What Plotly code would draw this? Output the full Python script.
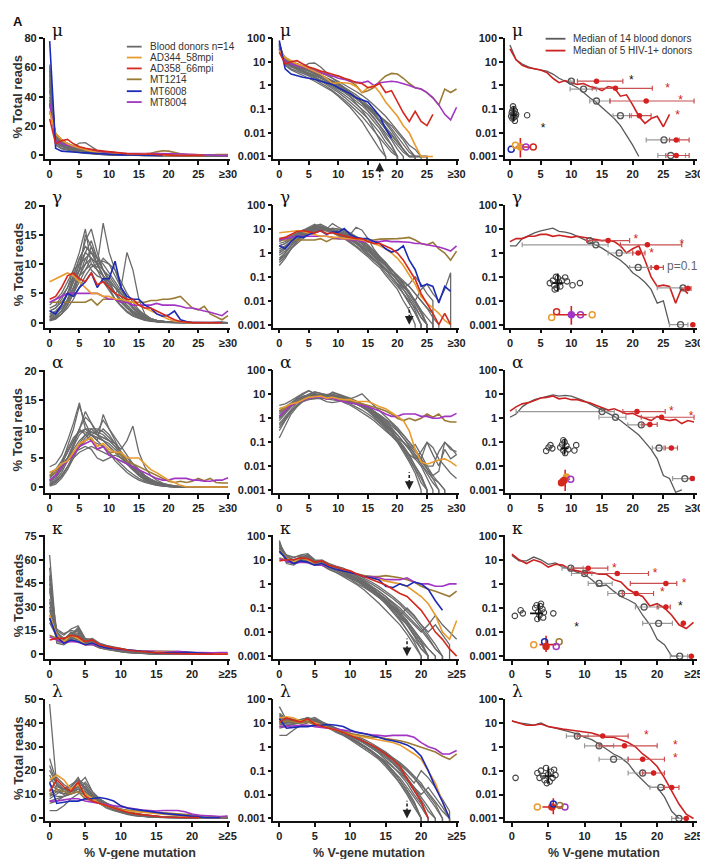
import plotly.graph_objects as go

FIG_W, FIG_H = 708, 859
GREY = "#6b6b6b"
C_AD344 = "#E89B2E"
C_AD358 = "#D42A1E"
C_MT1214 = "#9A7B35"
C_MT6008 = "#1B2BB5"
C_MT8004 = "#A235C4"
MED_GREY = "#5a5a5a"
MED_RED = "#CC2222"

# ---------------- mu ----------------
MU_DONORS = [
    [45,10,7,5.5,4.5,3.5,2.6,2,1.5,1.1,0.8,0.55,0.4,0.28,0.18,0.11,0.06,0.03,0.015,0.008,0.004,0.002,0.001,0.001],
    [60,8,5,4,3.2,2.5,1.8,1.3,0.9,0.6,0.4,0.25,0.15,0.09,0.05,0.025,0.012,0.006,0.003,0.0015,0.001],
    [35,14,10,8,6.5,5.5,4.5,3.5,2.7,2,1.5,1.1,0.8,0.55,0.38,0.25,0.15,0.09,0.05,0.025,0.012,0.006,0.003,0.002,0.001,0.001],
    [50,9,6.5,5.5,6,8.5,8.8,6,3.5,2,1.3,0.8,0.5,0.3,0.17,0.09,0.045,0.02,0.008,0.003,0.001],
    [40,12,8,6,4.5,3.2,2.3,1.6,1.1,0.75,0.5,0.32,0.2,0.12,0.07,0.04,0.02,0.01,0.004,0.002,0.001],
    [55,7,4.5,3.5,2.6,2,1.5,1.1,0.8,0.55,0.35,0.2,0.12,0.06,0.03,0.012,0.005,0.002,0.001],
    [30,15,11,8,6,4.5,3.5,2.6,2,1.5,1.1,0.75,0.5,0.33,0.2,0.12,0.07,0.035,0.018,0.009,0.004,0.002,0.001,0.001,0.001,0.001],
    [48,11,8,6.5,5,4,3,2.2,1.6,1.2,0.9,0.65,0.45,0.3,0.19,0.12,0.08,0.05,0.03,0.015,0.007,0.003,0.0015,0.001],
    [58,9,6,4.5,3.5,2.8,2.2,1.7,1.3,0.95,0.7,0.5,0.34,0.22,0.14,0.08,0.04,0.02,0.01,0.005,0.002,0.001],
    [38,13,9,7,5.5,4.5,3.6,2.8,2.1,1.6,1.2,0.85,0.6,0.4,0.25,0.15,0.09,0.05,0.025,0.012,0.005,0.002,0.001,0.001],
    [52,10,7,5,3.8,2.9,2.2,1.6,1.2,0.85,0.6,0.4,0.26,0.16,0.1,0.06,0.03,0.015,0.006,0.003,0.001],
    [44,12,8.5,6.5,5,4,3.2,2.5,1.9,1.4,1,0.7,0.48,0.3,0.2,0.13,0.08,0.05,0.03,0.02,0.01,0.005,0.002,0.001,0.001,0.001],
    [36,9,7,6,5,4.2,3.4,2.6,1.9,1.3,0.85,0.55,0.33,0.18,0.09,0.04,0.015,0.005,0.001],
    [62,10,6.5,5,4,3.3,2.7,2.1,1.6,1.2,0.85,0.6,0.42,0.28,0.18,0.11,0.06,0.03,0.014,0.006,0.003,0.0015,0.001,0.001,0.001],
]
MU_AD344 = [30,15,11,8,6.5,5,4,3,2,1.2,1.3,1.3,1.2,0.9,0.5,0.8,1,0.5,0.2,0.1,0.05,0.02,0.01,0.003,0.001,0.001,0.001]
MU_AD358 = [25,8,10,11,8,6,5,4,3.5,3,2.5,2,1.7,1.3,1.2,0.8,0.9,1.2,0.5,0.6,0.2,0.07,0.03,0.08,0.03,0.02,0.06]
MU_MT1214 = [30,15,10,8,6,5,4,3.5,3,2.5,2.5,2,1.5,1,0.5,0.6,0.8,1.5,2.5,3.2,3,2,1.2,0.8,0.7,0.5,0.3,0.15,0.7,0.5,0.7]
MU_MT6008 = [78,5,3,2.5,2.2,2,1.8,1.5,1.3,1.1,0.8,0.6,0.45,0.3,0.25,0.2,0.1,0.05,0.015,0.006]
MU_MT8004 = [35,10,8,7,6,5,4,3.5,3,2.5,2,1.8,1.5,1.4,1.3,1.5,1,1.3,1.4,1.5,1.4,1.2,1,0.8,0.7,0.5,0.3,0.15,0.06,0.035,0.12]
MU_MED_DONOR = [50,12,8,6,5,4.5,4,3,2,1.5,1.1,0.8,0.5,0.3,0.2,0.12,0.07,0.04,0.02,0.008,0.003,0.001]
MU_MED_HIV = [35,12,7,5.5,5,4.5,3.5,2,1.3,1.6,1.3,1.1,1.2,0.9,0.8,0.6,0.9,0.8,0.35,0.4,0.15,0.05,0.025,0.04,0.05,0.018,0.06]
MU_G_X = [10,12,14.1,18,25.1,26.2]
MU_G_Y = [1.5,0.7,0.22,0.053,0.005,0.0011]
MU_G_LO = [9.8,9.8,13,16.8,22.2,24.1]
MU_G_HI = [10.4,14.1,16.3,19.8,27.6,28.6]
MU_R_X = [14.1,17.2,22.2,21.1,27.1,27.1]
MU_R_Y = [1.5,0.75,0.22,0.053,0.005,0.0011]
MU_R_LO = [11,13.4,16.3,19.5,26,25.4]
MU_R_HI = [18.4,23.2,30,23,29.2,29.2]
MU_STAR_X = [19.8,25.7,27.8,27.3,5.4]
MU_STAR_Y = [1.5,0.7,0.22,0.053,0.014]
MU_STAR_C = ["k","r","r","r","k"]
MU_SW_X = [0.5,0.6,0.4,0.8,0.3,0.7,1.0,0.5,0.2,0.9,0.6,0.4,0.8,2.8]
MU_SW_Y = [0.13,0.1,0.085,0.085,0.07,0.065,0.06,0.055,0.05,0.05,0.045,0.04,0.032,0.055]
MU_SW_CROSS = [0.6,0.03,0.13,0.2,1.1,0.055]
MU_HIV_X = [0.2,0.9,1.7,2.6,3.8]
MU_HIV_Y = [0.002,0.003,0.0025,0.0025,0.0025]
MU_HIV_C = [C_MT6008,C_AD344,C_AD344,C_MT8004,C_AD358]
MU_HIV_F = [False,False,True,False,False]
MU_HIV_CROSS = [1.7,0.0009,0.006,0.9,3.4,0.0025]

# ---------------- gamma ----------------
GAM_DONORS = [
    [0.5,1,2,4,7,10,14,16,12,9,7,5,3.5,2.5,1.5,0.9,0.5,0.3,0.15,0.08,0.04,0.02,0.008,0.003,0.001],
    [1,1.5,3,5,8,11,13,12,10,8,6,4,2.8,1.8,1.1,0.7,0.4,0.25,0.12,0.06,0.03,0.01,0.004,0.001],
    [2,2.5,4,6,9,12,16,10,9,7,5.5,4,3,2,1.3,0.8,0.5,0.3,0.2,0.1,0.05,0.02,0.01,0.005,0.002,0.001],
    [0.3,0.6,1.5,3,5,7,9,11,10,17,12,9,6,4,2.5,1.5,0.9,0.5,0.3,0.15,0.07,0.03,0.012,0.004,0.001],
    [3,4,5,7,9,10,11,9,8,7.5,6,5,4,3,2,1.2,0.8,0.5,0.3,0.2,0.1,0.06,0.04,0.02,0.01,0.005,0.003],
    [0.8,1.2,2,3.5,6,9,12,14,11,9,7,5,6,12,9,4,1.5,0.7,0.35,0.15,0.08,0.04,0.02,0.01,0.003,0.001],
    [1.5,2,3,5,7,9,15,13,10,8,6,5,3.8,2.6,1.7,1,0.6,0.35,0.2,0.1,0.05,0.03,0.015,0.006,0.002,0.001],
    [0.5,0.8,1.5,2.5,4,6,8,9.5,10,10.5,10,9,7,5,3.5,2.2,1.3,0.7,0.4,0.2,0.1,0.05,0.02,0.01,0.004,0.002,0.001],
    [2.5,3,4.5,6,8,11,13,12,10,8,6.5,5,3.5,2.5,1.8,1.2,0.7,0.4,0.25,0.13,0.07,0.035,0.05,0.1,0.05,0.02,0.01],
    [1,1.5,2.5,4,6,8,10,13,11,9,7.5,6,4.5,3,2,1.3,0.8,0.5,0.3,0.15,0.08,0.04,0.02,0.008,0.003,0.001],
    [0.4,0.7,1.5,3,5,8,11,12,11,10,8.5,7,5.5,4,3,2,1.2,0.7,0.4,0.2,0.1,0.05,0.02,0.01,0.03,0.05,0.02,0.01,0.03,0.15],
    [1.2,1.8,3,5,7.5,10,12,11,9,8,7,6,5,3.8,2.7,1.8,1.1,0.6,0.35,0.2,0.1,0.05,0.025,0.01,0.004,0.001],
    [0.6,1,2,3.5,5.5,8,9,10,9.5,11,10,8,6,4,2.5,1.5,0.8,0.4,0.2,0.1,0.05,0.02,0.008,0.003,0.001],
    [2,2.5,3.5,5,7,9,10,11,10,9,8,6.5,5,3.5,2.5,1.6,1,0.6,0.35,0.2,0.12,0.07,0.04,0.02,0.01,0.005,0.002,0.001],
]
GAM_AD344 = [7,7.5,8,8.5,8,7,6,5,5,4.5,4.5,4,4,3.8,3.5,3,2.5,2,1.5,1,0.6,0.3,0.12,0.05,0.015,0.008,0.005,0.003,0.0015,0.001]
GAM_AD358 = [4,4.5,6,8,8.5,7.5,7,8.5,6.5,7,6,5,4.5,4,4,3,2.5,2.5,2,1.5,1,0.5,0.2,0.08,0.02,0.008,0.003,0.001,0.003,0.001]
GAM_MT1214 = [3.5,3.5,3.5,3.5,3.5,3.5,3.5,4,3,4,4,4,3.5,3.5,3.5,3.5,3.5,3.8,3.8,4,4,4.2,4.5,3.5,2.5,2.2,2.8,1.5,1,0.5,1.2]
GAM_MT6008 = [2,1.5,3,5,4.5,6,7,8.5,6,7.5,7.5,10.5,6,4.5,4,4,3,2.5,1.5,1.1,1.3,2,0.5,0.2,0.04,0.05,0.04,0.008,0.04,0.025]
GAM_MT8004 = [3.5,4,4.5,5,5,5,5,5,5,4.5,4,4,3.5,3.5,3,3,3,3,3.3,3,3,3,2.8,2.5,2.5,2.2,2,1.8,1.5,1.2,2]
GAM_MED_DONOR = [2,2,4,5.5,7,8.5,9.5,11,8,7.5,6.5,5,4,3,2.2,1.6,1.1,0.75,0.5,0.3,0.15,0.1,0.06,0.03,0.008,0.01,0.001]
GAM_MED_HIV = [3,4,4,5,5,6,6,5,5.5,5,4.5,5,4.5,4,3.5,3.3,3.5,3,2,1,1.5,2,0.5,0.1,0.04,0.045,0.04,0.008,0.035,0.02]
GAM_G_X = [13,14,17.8,20.9,28.2,27.8]
GAM_G_Y = [3.3,2.2,1,0.25,0.035,0.001]
GAM_G_LO = [13,2,16,19.5,24,26]
GAM_G_HI = [13,16,20,23,29,29]
GAM_R_X = [16,22.4,20.9,23.9,29,29.8]
GAM_R_Y = [3.3,2.2,1,0.25,0.033,0.001]
GAM_R_LO = [12.5,18,20,23,28.5,29.8]
GAM_R_HI = [19.5,28,22,25,29.5,29.8]
GAM_STAR_X = [20.5,28,23.1,31]
GAM_STAR_Y = [3.5,2.2,0.95,0.001]
GAM_STAR_C = ["r","r","r","r"]
GAM_SW_X = [6.5,7,7.2,7.5,7.8,8,7.6,7.3,8.2,8.5,9,9.3,10.2,11.4]
GAM_SW_Y = [0.055,0.07,0.045,0.1,0.09,0.06,0.035,0.03,0.04,0.07,0.095,0.065,0.045,0.055]
GAM_SW_CROSS = [7.8,0.024,0.14,7.0,8.6,0.055]
GAM_HIV_X = [6.8,7.6,10,11.5,13.4]
GAM_HIV_Y = [0.002,0.0035,0.0026,0.0026,0.0026]
GAM_HIV_C = [C_AD344,C_AD358,C_MT8004,C_MT8004,C_AD344]
GAM_HIV_F = [False,False,True,False,False]
GAM_HIV_CROSS = [10,0.001,0.006,7.6,12.5,0.0026]

# ---------------- alpha ----------------
ALP_DONORS = [
    [1,2,4,7,10,14,11,9,8,7,6,4.5,3.5,2.5,1.8,1.2,0.8,0.5,0.3,0.18,0.1,0.05,0.02,0.008,0.003,0.001],
    [0.15,0.5,1.5,3,5,7,8.5,9.5,9,8.5,8,7,6,5,4,3,2,1.3,0.8,0.5,0.3,0.15,0.07,0.03,0.012,0.005,0.002,0.001],
    [3.5,4,5.5,8,11,14.5,10,9,8,12.5,10,8.5,7,5.5,4,2.8,1.8,1.1,0.6,0.3,0.15,0.07,0.03,0.01,0.004,0.001],
    [0.5,1,2,3.5,5.5,7,8,9,9.5,9,8,7.5,6.5,8,10.5,6,3.5,2,1.2,0.7,0.4,0.2,0.1,0.05,0.02,0.1,0.03,0.01,0.05,0.02,0.03],
    [1.5,2.5,4,6,8,10,9,8,7.5,7,6,5,4,3,2.2,1.5,1,0.6,0.35,0.2,0.1,0.04,0.015,0.005,0.001],
    [0.8,1.5,3,5,7,9,10,10,9,8.5,8,7,5.5,4,3,2,1.3,0.8,0.5,0.3,0.15,0.1,0.05,0.08,0.03,0.01,0.004,0.006,0.1,0.05,0.04],
    [2,3,4.5,6.5,8.5,9.5,10,9.5,9,10,9,7.5,6,4.5,3.2,2.2,1.5,0.9,0.5,0.25,0.12,0.05,0.02,0.007,0.002,0.001],
    [0.3,0.8,1.8,3.5,5.5,7.5,9,10,10,9.5,8.5,7.5,6,4.5,3.3,2.3,1.5,1,0.6,0.35,0.2,0.1,0.05,0.02,0.04,0.1,0.06,0.02,0.01,0.005,0.003],
    [1.2,2,3.5,5,6.5,8,9,9,8.5,8,7.5,6.5,5.5,4.5,3.5,2.5,1.7,1.1,0.7,0.4,0.2,0.1,0.06,0.03,0.015,0.008,0.004,0.002,0.001],
    [0.6,1.2,2.5,4.5,7,10,13,11,9,8,7,6,5,4,3,2,1.2,0.7,0.4,0.2,0.1,0.05,0.03,0.02,0.01,0.003,0.001],
    [2.5,3,4,5,6,6.5,7,6.5,5,4.5,5,5.5,5,4.5,4,3,2,1.3,0.8,0.5,0.3,0.15,0.08,0.04,0.02,0.01,0.01,0.04,0.1,0.06,0.03],
    [1,1.8,3,5,7.5,10,12,11,9.5,11.5,10,8,6,4.5,3.2,2.2,1.4,0.8,0.45,0.25,0.12,0.06,0.025,0.01,0.004,0.001],
    [0.4,0.9,2,3.5,5,6,6.5,7,6.5,6,5.5,5,4.5,4,3.5,2.8,2,1.4,0.9,0.6,0.35,0.2,0.1,0.05,0.02,0.008,0.003,0.001],
    [1.8,2.5,4,6,8,9.5,9.5,9,8.5,8,7,6,5,4,3,2.2,1.5,1,0.6,0.35,0.2,0.1,0.05,0.025,0.012,0.006,0.003,0.002,0.001],
]
ALP_AD344 = [2.5,3,4,4.5,6,7.5,8,8.5,7,7.5,6.5,6,6,5,5,5,4,3,2.5,1.8,1.2,0.8,0.3,0.05,0.015,0.012,0.015,0.018,0.02,0.015,0.01]
ALP_MT1214 = [2,2.5,3.5,4.5,6,7,8,8.5,6.5,7,6,6,5.5,4.5,4,3.5,3,2.5,2,1.5,1,0.8,1,0.8,1,1.5,1.1,1.5,0.8,0.7,0.7]
ALP_MT8004 = [1.2,2,3.5,4.5,5.5,7,7.5,8,6.5,7,5.5,5,4.5,4,3.5,3,2.5,2,1.5,1.2,1.2,1.5,1.5,1.5,1.2,1.2,1,1,1.2,1.2,1.6]
ALP_MED_DONOR = [1.1,1.5,3,4.5,6,7,8.5,9.5,8.5,9,8.5,7,5.5,4,3,2.2,1.7,1.2,0.8,0.5,0.3,0.2,0.1,0.05,0.02,0.004,0.003,0.0008,0.001]
ALP_MED_HIV = [2,3,4,4.5,5.5,7,7.5,8.5,6.5,7,6,6,5,4.5,3.5,2.7,2.2,2.5,2,1.5,1.6,1.2,1.0,0.8,1.2,0.9,0.8,0.9,0.6,0.8,0.7]
ALP_G_X = [15,17.2,21.4,24.3,28.5]
ALP_G_Y = [1.9,1.1,0.53,0.057,0.003]
ALP_G_LO = [1,14.5,19.2,23.2,26.5]
ALP_G_HI = [17,18.9,22.7,25.1,30]
ALP_R_X = [20.7,24.7,22.8,26.3,29.7]
ALP_R_Y = [1.9,1.1,0.55,0.057,0.003]
ALP_R_LO = [18.4,21.4,21.5,25.3,29.7]
ALP_R_HI = [25.3,30,24,27.3,29.7]
ALP_STAR_X = [26.3,29.5,31.2]
ALP_STAR_Y = [1.9,1.1,0.003]
ALP_STAR_C = ["r","r","k"]
ALP_SW_X = [5.9,6.3,6.6,6.9,8.2,8.5,8.7,8.9,9.0,9.2,9.5,10.5,10.8,8.7]
ALP_SW_Y = [0.043,0.06,0.075,0.055,0.06,0.08,0.045,0.1,0.035,0.07,0.05,0.045,0.075,0.12]
ALP_SW_CROSS = [8.9,0.03,0.14,8.3,9.5,0.055]
ALP_HIV_X = [8.4,9.2,8.8,9.9]
ALP_HIV_Y = [0.002,0.0035,0.0025,0.0028]
ALP_HIV_C = [C_AD358,C_AD344,C_AD358,C_MT8004]
ALP_HIV_F = [True,True,True,False]
ALP_HIV_CROSS = [9,0.0009,0.007,8.2,9.8,0.0028]

# ---------------- kappa ----------------
KAP_DONORS = [
    [63,8,7,10,12,7,6,4,3,2.2,1.6,1,0.7,0.45,0.28,0.17,0.1,0.05,0.025,0.01,0.004,0.001],
    [45,10,8,12,17,9,8,5.5,4,3,2,1.4,0.9,0.6,0.35,0.2,0.1,0.05,0.02,0.008,0.003,0.001],
    [30,12,9,14,11,8,9,6,4.5,3.5,2.5,1.7,1.1,0.7,0.4,0.22,0.12,0.06,0.03,0.01,0.004,0.002,0.001],
    [48,15,12,16,18,10,9,6.5,5,3.8,2.8,2,1.3,0.8,0.5,0.3,0.15,0.07,0.03,0.012,0.005,0.002,0.001],
    [25,9,7,11,10,6,7,4.5,3.5,2.5,1.8,1.2,0.8,0.5,0.3,0.15,0.08,0.04,0.02,0.008,0.003,0.001],
    [40,14,10,12,13,8,9,6,4.5,3.3,2.4,1.6,1,0.6,0.35,0.18,0.08,0.035,0.012,0.004,0.001],
    [20,11,9,10,9,7,7.5,5,4,3,2.2,1.5,1,0.65,0.4,0.25,0.15,0.08,0.04,0.02,0.01,0.02,0.05,0.02,0.01,0.005],
    [55,7,6,9,11,6,6,4,3,2,1.4,0.9,0.55,0.3,0.16,0.08,0.04,0.02,0.008,0.003,0.001],
    [35,16,13,15,14,9,10,7,5.5,4.5,3.3,2.4,1.7,1.2,0.8,0.5,0.3,0.17,0.09,0.045,0.02,0.008,0.003,0.001],
    [28,10,8,11,12,7,8,5,4,3,2,1.3,0.85,0.55,0.35,0.2,0.1,0.05,0.1,0.05,0.02,0.01,0.02,0.008,0.003],
    [42,12,9,13,15,8.5,8,5.5,4.2,3.2,2.3,1.6,1,0.65,0.4,0.22,0.12,0.05,0.02,0.007,0.002,0.001],
    [22,13,10,12,10,7.5,8.5,6,4.8,3.8,2.9,2.1,1.5,1,0.65,0.4,0.25,0.14,0.07,0.035,0.015,0.006,0.002,0.001],
    [50,9,7,10,16,8,7,5,3.7,2.7,1.9,1.3,0.8,0.5,0.3,0.15,0.07,0.03,0.012,0.005,0.002,0.001],
    [33,11,8.5,12,13,7.5,8,5.5,4.3,3.3,2.5,1.8,1.2,0.8,0.5,0.3,0.18,0.1,0.05,0.025,0.012,0.005,0.002,0.001],
]
KAP_AD344 = [25,12,8,12,10,6,7,5,4,3.5,3,2.5,2,1.8,1.5,1.3,1.2,1,0.8,0.5,0.3,0.15,0.05,0.01,0.005,0.03]
KAP_AD358 = [9,10,10,12,11,8,9,6,5,4,3.5,2.5,2,1.5,1.2,0.9,0.6,0.4,0.3,0.15,0.08,0.03,0.01,0.005,0.002,0.001]
KAP_MT1214 = [12,10,8,9,8,6,6.5,5,4,3.5,3,2.5,2.2,2,2,2.2,2,1.8,1.5,1.2,0.8,0.6,0.5,0.4,0.3,0.5]
KAP_MT6008 = [23,11,7,9,8,6,7,5,4,3.5,3,2.5,2,1.8,1.5,0.8,0.7,1,0.8,1.2,1,0.6,0.2,0.08]
KAP_MT8004 = [11,9,7,8,7.5,6,6,5,4,3.5,3,2.5,2,2,1.8,1.5,1.5,1.5,1.8,1.2,1,1,0.8,0.8,1,1]
KAP_MED_DONOR = [15,9,9,13,10,6.5,7.5,5,4,3,2.5,1.5,0.8,0.9,0.5,0.3,0.22,0.15,0.05,0.02,0.005,0.003,0.001,0.001]
KAP_MED_HIV = [17,10,7,10,8,5,6.5,6,4,3.5,3,3,2.5,2.5,1.5,1.2,0.6,0.4,0.3,0.12,0.15,0.1,0.05,0.02,0.014,0.025]
KAP_G_X = [8.1,10,12,15.1,18.2,20.2,23.1]
KAP_G_Y = [4.5,2.7,1.05,0.4,0.11,0.023,0.001]
KAP_G_LO = [6.9,8.2,10.5,13.2,17.0,18,21.8]
KAP_G_HI = [9.8,11,13.8,17,20.2,22.1,24.2]
KAP_R_X = [10.5,14.5,21.2,17.1,21.2,23.6,24.7]
KAP_R_Y = [4.5,2.7,1.05,0.4,0.11,0.023,0.001]
KAP_R_LO = [8.2,9.6,16.3,15.2,20,23.6,24.7]
KAP_R_HI = [13.2,18.8,22.7,19.5,21.8,23.6,24.7]
KAP_STAR_X = [14.1,19.7,23.7,20.7,23.2,25.6,8.9]
KAP_STAR_Y = [4.3,2.6,1.0,0.4,0.11,0.023,0.015]
KAP_STAR_C = ["r","r","r","r","k","k","k"]
KAP_SW_X = [0.4,1.2,1.5,3.2,3.4,3.6,3.8,4.0,4.2,3.5,4.3,3.9,4.4,5.7]
KAP_SW_Y = [0.047,0.08,0.06,0.1,0.13,0.07,0.05,0.15,0.09,0.035,0.04,0.12,0.065,0.06]
KAP_SW_CROSS = [3.7,0.03,0.15,2.5,4.3,0.06]
KAP_HIV_X = [3.0,4.5,4.7,6.5,6.1]
KAP_HIV_Y = [0.003,0.004,0.0025,0.004,0.0025]
KAP_HIV_C = [C_AD344,C_MT6008,C_AD358,C_MT1214,C_MT8004]
KAP_HIV_F = [False,False,True,False,False]
KAP_HIV_CROSS = [4.7,0.0015,0.007,3.8,6.1,0.003]

# ---------------- lambda ----------------
LAM_DONORS = [
    [48,13,12,11,13,10,7,6,4,3,2,1.3,0.8,0.5,0.3,0.15,0.07,0.03,0.012,0.004,0.001],
    [25,15,12,13,16,14,10,7,5,3.5,2.5,1.7,1.1,0.7,0.4,0.22,0.1,0.04,0.015,0.005,0.001],
    [3,3,5,8,10,15,11,8,6,4.5,3.2,2.3,1.6,1.1,0.7,0.45,0.25,0.12,0.05,0.02,0.006,0.002,0.001],
    [8,10,12,14,16,12,9,7,5.5,4,3,2.2,1.5,1,0.65,0.4,0.22,0.1,0.04,0.015,0.005,0.001],
    [20,14,11,12,14,17,11,8,6,4.3,3.1,2.1,1.4,0.9,0.55,0.3,0.15,0.07,0.03,0.01,0.004,0.001],
    [12,11,10,11,12,10,8,6.5,5,4,3,2.2,1.6,1.1,0.75,0.5,0.3,0.18,0.1,0.05,0.02,0.008,0.003,0.001],
    [15,17,14,12,15,13,9,7,5,3.6,2.5,1.6,1,0.6,0.35,0.18,0.08,0.03,0.01,0.003,0.001],
    [7,8,9,10,12,11,9,7.5,6,4.8,3.7,2.8,2,1.4,0.95,0.6,0.35,0.2,0.1,0.05,0.025,0.012,0.005,0.002,0.001],
    [18,12,10,12,13,11,8,6,4.5,3.2,2.2,1.5,1,0.65,0.4,0.25,0.14,0.08,0.04,0.02,0.01,0.02,0.008,0.003,0.001],
    [10,9,9,10,11,9.5,8,6.5,5,3.8,2.8,2,1.4,0.9,0.6,0.35,0.2,0.1,0.05,0.02,0.008,0.003,0.001],
    [22,14,12,13,17,12,9,6.5,4.8,3.4,2.4,1.6,1,0.6,0.35,0.2,0.1,0.05,0.02,0.008,0.003,0.001],
    [6,7,9,11,13,12,10,8,6,4.5,3.3,2.4,1.7,1.2,0.8,0.55,0.35,0.22,0.12,0.06,0.03,0.01,0.004,0.001],
    [14,12,11,12,14,13,9,7,5,3.5,2.4,1.6,1,0.6,0.35,0.2,0.1,0.04,0.015,0.005,0.001],
    [9,11,10,11,12,10,8.5,7,5.5,4.2,3.2,2.4,1.7,1.2,0.8,0.5,0.3,0.15,0.07,0.03,0.1,0.05,0.02,0.006,0.002],
]
LAM_AD344 = [16,18,16,12,14,10,8,6,5,4,3.2,2.8,2.5,2.2,2,1.8,1.5,1.2,0.8,0.5,0.3,0.1,0.03,0.005,0.001]
LAM_AD358 = [11,16,13,11,15,9,7,6,5,4,3,2.2,1.6,1.2,0.8,0.5,0.3,0.15,0.05,0.015,0.005,0.001]
LAM_MT1214 = [10,12,11,10,11,8,7,6,5,4,3.5,3,2.8,2.5,2.5,2.2,2,1.8,1.5,1.2,1,0.8,0.6,0.4,0.3,0.5]
LAM_MT6008 = [15,6,6.5,7,7,8,8,8.5,8,7,5,4,3.5,3,2.5,2,1.8,1.5,1.2,0.8,0.4,0.1,0.02,0.005,0.001]
LAM_MT8004 = [7,7,7.5,8,8,7,6.5,6,5.5,5,4.5,4,3.5,3.2,3,2.8,3,3,3,2.5,1.5,1,0.8,0.5,0.5,0.7]
LAM_MED_DONOR = [12,10,9,8,10,7,6,5,4,3.5,2.5,2,1.3,0.8,0.5,0.35,0.2,0.08,0.04,0.02,0.02,0.008,0.002,0.001]
LAM_MED_HIV = [12,10,8,8,9,7,6,5.5,5,4.5,4,3.8,3,2.5,2.5,2,1.5,1,0.5,0.3,0.15,0.05,0.015,0.004,0.0015,0.001]
LAM_G_X = [9,12,14,18,20.5,23]
LAM_G_Y = [2.8,1.1,0.3,0.08,0.02,0.001]
LAM_G_LO = [7.5,10,12,16,19,22]
LAM_G_HI = [10.5,14,16,19.5,22,24]
LAM_R_X = [12.5,15.5,18,19.5,22,24]
LAM_R_Y = [2.8,1.1,0.3,0.08,0.02,0.001]
LAM_R_LO = [9,12,16,18,21,24]
LAM_R_HI = [16,20,21,21,23,24]
LAM_STAR_X = [18.5,22.5,22.5]
LAM_STAR_Y = [2.8,1.1,0.3]
LAM_STAR_C = ["r","r","r"]
LAM_SW_X = [0.5,3.5,3.8,4,4.3,4.5,4.7,5,5.2,5.4,5.6,5.8,6,4.8]
LAM_SW_Y = [0.05,0.08,0.05,0.1,0.06,0.04,0.13,0.07,0.035,0.09,0.05,0.11,0.065,0.03]
LAM_SW_CROSS = [5,0.03,0.14,4.2,5.8,0.06]
LAM_HIV_X = [3.5,5.5,5.7,7.3,6.6]
LAM_HIV_Y = [0.003,0.003,0.004,0.003,0.0035]
LAM_HIV_C = [C_AD344,C_AD358,C_MT6008,C_MT8004,C_MT1214]
LAM_HIV_F = [False,True,False,False,False]
LAM_HIV_CROSS = [5.7,0.0015,0.007,4.2,7.0,0.003]

GREEK = ["μ", "γ", "α", "κ", "λ"]
NX = [31, 31, 31, 26, 26]
LIN_RANGE = [[-2.7, 80.3], [-0.85, 20.1], [-1.0, 20.1], [-3.2, 75.4], [-1.6, 50.2]]
LIN_TICKS = [[0,20,40,60,80],[0,5,10,15,20],[0,5,10,15,20],[0,15,30,45,60,75],[0,10,20,30,40,50]]
ARROW_X = [17, 22, 22, 18, 18]
ARROW_UP = [True, False, False, False, False]

CHAINS = [
    dict(donors=MU_DONORS, hiv=[(MU_MT1214,C_MT1214),(MU_MT8004,C_MT8004),(MU_AD344,C_AD344),(MU_MT6008,C_MT6008),(MU_AD358,C_AD358)],
         med_d=MU_MED_DONOR, med_h=MU_MED_HIV, g=(MU_G_X,MU_G_Y,MU_G_LO,MU_G_HI), r=(MU_R_X,MU_R_Y,MU_R_LO,MU_R_HI),
         star=(MU_STAR_X,MU_STAR_Y,MU_STAR_C), sw=(MU_SW_X,MU_SW_Y,MU_SW_CROSS), hp=(MU_HIV_X,MU_HIV_Y,MU_HIV_C,MU_HIV_F,MU_HIV_CROSS)),
    dict(donors=GAM_DONORS, hiv=[(GAM_MT1214,C_MT1214),(GAM_MT8004,C_MT8004),(GAM_AD344,C_AD344),(GAM_MT6008,C_MT6008),(GAM_AD358,C_AD358)],
         med_d=GAM_MED_DONOR, med_h=GAM_MED_HIV, g=(GAM_G_X,GAM_G_Y,GAM_G_LO,GAM_G_HI), r=(GAM_R_X,GAM_R_Y,GAM_R_LO,GAM_R_HI),
         star=(GAM_STAR_X,GAM_STAR_Y,GAM_STAR_C), sw=(GAM_SW_X,GAM_SW_Y,GAM_SW_CROSS), hp=(GAM_HIV_X,GAM_HIV_Y,GAM_HIV_C,GAM_HIV_F,GAM_HIV_CROSS)),
    dict(donors=ALP_DONORS, hiv=[(ALP_MT1214,C_MT1214),(ALP_MT8004,C_MT8004),(ALP_AD344,C_AD344)],
         med_d=ALP_MED_DONOR, med_h=ALP_MED_HIV, g=(ALP_G_X,ALP_G_Y,ALP_G_LO,ALP_G_HI), r=(ALP_R_X,ALP_R_Y,ALP_R_LO,ALP_R_HI),
         star=(ALP_STAR_X,ALP_STAR_Y,ALP_STAR_C), sw=(ALP_SW_X,ALP_SW_Y,ALP_SW_CROSS), hp=(ALP_HIV_X,ALP_HIV_Y,ALP_HIV_C,ALP_HIV_F,ALP_HIV_CROSS)),
    dict(donors=KAP_DONORS, hiv=[(KAP_MT1214,C_MT1214),(KAP_MT8004,C_MT8004),(KAP_AD344,C_AD344),(KAP_MT6008,C_MT6008),(KAP_AD358,C_AD358)],
         med_d=KAP_MED_DONOR, med_h=KAP_MED_HIV, g=(KAP_G_X,KAP_G_Y,KAP_G_LO,KAP_G_HI), r=(KAP_R_X,KAP_R_Y,KAP_R_LO,KAP_R_HI),
         star=(KAP_STAR_X,KAP_STAR_Y,KAP_STAR_C), sw=(KAP_SW_X,KAP_SW_Y,KAP_SW_CROSS), hp=(KAP_HIV_X,KAP_HIV_Y,KAP_HIV_C,KAP_HIV_F,KAP_HIV_CROSS)),
    dict(donors=LAM_DONORS, hiv=[(LAM_MT1214,C_MT1214),(LAM_MT8004,C_MT8004),(LAM_AD344,C_AD344),(LAM_MT6008,C_MT6008),(LAM_AD358,C_AD358)],
         med_d=LAM_MED_DONOR, med_h=LAM_MED_HIV, g=(LAM_G_X,LAM_G_Y,LAM_G_LO,LAM_G_HI), r=(LAM_R_X,LAM_R_Y,LAM_R_LO,LAM_R_HI),
         star=(LAM_STAR_X,LAM_STAR_Y,LAM_STAR_C), sw=(LAM_SW_X,LAM_SW_Y,LAM_SW_CROSS), hp=(LAM_HIV_X,LAM_HIV_Y,LAM_HIV_C,LAM_HIV_F,LAM_HIV_CROSS)),
]

LEGEND_LABELS = ["Blood donors n=14", "AD344_58mpi", "AD358_66mpi", "MT1214", "MT6008", "MT8004"]
LEGEND_COLORS = [GREY, C_AD344, C_AD358, C_MT1214, C_MT6008, C_MT8004]
LEGEND_Y = [33, 44, 55, 66, 78, 89]
RIGHT_LEGEND = ["Median of 14 blood donors", "Median of 5 HIV-1+ donors"]

# ---------------- layout geometry (pixels) ----------------
COL_X = [(37, 224), (268, 456), (502, 696)]
ROW_Y = [(24, 147), (193, 317), (360, 484), (527, 652), (692, 816)]
XR30 = [[-0.85, 30.3], [-1.0, 30.5], [-0.8, 30.5]]
XR25 = [[-0.7, 25.3], [-0.85, 25.4], [-0.95, 25.5]]


def px(x):
    return x / FIG_W


def py(y):
    return 1 - y / FIG_H


def sfx(k):
    return "" if k == 1 else str(k)


fig = go.Figure()
TICKFONT = dict(family="Liberation Sans, Arial", size=11, color="#222", weight="bold")
layout = dict(width=FIG_W, height=FIG_H, margin=dict(l=0, r=0, t=0, b=0),
              paper_bgcolor="white", plot_bgcolor="white", showlegend=False)
annotations = []
shapes = []


def line_tr(k, xs, ys, color, width):
    return go.Scatter(x=xs, y=ys, mode="lines", line=dict(color=color, width=width),
                      xaxis="x" + sfx(k), yaxis="y" + sfx(k), hoverinfo="skip", showlegend=False)


for r, ch in enumerate(CHAINS):
    nx = NX[r]
    xtv = list(range(0, nx, 5))
    xtt = [str(v) for v in xtv]
    xtt[-1] = "≥" + xtt[-1]
    for c in range(3):
        k = r * 3 + c + 1
        xr = (XR30 if nx == 31 else XR25)[c]
        layout["xaxis" + sfx(k)] = dict(
            domain=[px(COL_X[c][0]), px(COL_X[c][1])], anchor="y" + sfx(k), range=xr,
            showline=True, linecolor="#111", linewidth=1.6, ticks="outside", ticklen=4, tickwidth=1.5,
            tickcolor="#111", showgrid=False, zeroline=False, tickvals=xtv, ticktext=xtt, tickfont=TICKFONT)
        ya = dict(domain=[py(ROW_Y[r][1]), py(ROW_Y[r][0])], anchor="x" + sfx(k),
                  showline=True, linecolor="#111", linewidth=1.6, ticks="outside", ticklen=4, tickwidth=1.5,
                  tickcolor="#111", showgrid=False, zeroline=False, tickfont=TICKFONT)
        if c == 0:
            ya.update(range=LIN_RANGE[r], tickvals=LIN_TICKS[r], ticktext=[str(v) for v in LIN_TICKS[r]])
        else:
            ya.update(type="log", range=[-3.125, 2.01], tickvals=[0.001, 0.01, 0.1, 1, 10, 100],
                      ticktext=["0.001", "0.01", "0.1", "1", "10", "100"])
        layout["yaxis" + sfx(k)] = ya
        # greek label
        annotations.append(dict(text=GREEK[r], xref="paper", yref="paper",
                                x=px(COL_X[c][0] + 5), y=py(ROW_Y[r][0] - 8), xanchor="left", yanchor="middle",
                                showarrow=False, font=dict(family="DejaVu Serif, Liberation Serif", size=17, color="#111")))
        if c in (0, 1):
            for vals in ch["donors"]:
                ys = list(vals) + [0] * (nx - len(vals))
                fig.add_trace(line_tr(k, list(range(nx)), ys, GREY, 1.3))
            for vals, col in ch["hiv"]:
                fig.add_trace(line_tr(k, list(range(len(vals))), vals, col, 1.6))
        else:
            md = ch["med_d"]
            mh = ch["med_h"]
            fig.add_trace(line_tr(k, list(range(len(md))), md, MED_GREY, 1.3))
            fig.add_trace(line_tr(k, list(range(len(mh))), mh, MED_RED, 1.6))
            gx, gy, glo, ghi = ch["g"]
            fig.add_trace(go.Scatter(
                x=gx, y=gy, mode="markers", xaxis="x" + sfx(k), yaxis="y" + sfx(k), hoverinfo="skip",
                marker=dict(symbol="circle-open", size=6, color="#555", line=dict(width=1.3)),
                error_x=dict(type="data", symmetric=False, array=[h - x for h, x in zip(ghi, gx)],
                             arrayminus=[x - l for x, l in zip(gx, glo)], color="#9a9a9a", thickness=1.2, width=2.5)))
            rx, ry, rlo, rhi = ch["r"]
            fig.add_trace(go.Scatter(
                x=rx, y=ry, mode="markers", xaxis="x" + sfx(k), yaxis="y" + sfx(k), hoverinfo="skip",
                marker=dict(symbol="circle", size=5.5, color="#D42020"),
                error_x=dict(type="data", symmetric=False, array=[h - x for h, x in zip(rhi, rx)],
                             arrayminus=[x - l for x, l in zip(rx, rlo)], color="#C85050", thickness=1.2, width=2.5)))
            sx, sy, scol = ch["star"]
            fig.add_trace(go.Scatter(
                x=sx, y=sy, mode="text", text=["*"] * len(sx), cliponaxis=False,
                textfont=dict(size=12, family="Liberation Sans, Arial",
                              color=["#D42020" if s == "r" else "#111" for s in scol]),
                xaxis="x" + sfx(k), yaxis="y" + sfx(k), hoverinfo="skip"))
            wx, wy, wc = ch["sw"]
            fig.add_trace(go.Scatter(
                x=wx, y=wy, mode="markers", xaxis="x" + sfx(k), yaxis="y" + sfx(k), hoverinfo="skip",
                marker=dict(symbol="circle-open", size=5.5, color="#444", line=dict(width=1.1))))
            fig.add_trace(line_tr(k, [wc[0], wc[0]], [wc[1], wc[2]], "#111", 1.6))
            fig.add_trace(line_tr(k, [wc[3], wc[4]], [wc[5], wc[5]], "#111", 1.6))
            hx, hy, hc, hf, hcr = ch["hp"]
            fig.add_trace(line_tr(k, [hcr[0], hcr[0]], [hcr[1], hcr[2]], "#D42020", 1.6))
            fig.add_trace(line_tr(k, [hcr[3], hcr[4]], [hcr[5], hcr[5]], "#D42020", 1.6))
            fig.add_trace(go.Scatter(
                x=hx, y=hy, mode="markers", xaxis="x" + sfx(k), yaxis="y" + sfx(k), hoverinfo="skip",
                marker=dict(symbol=["circle" if f else "circle-open" for f in hf], size=6, color=hc,
                            line=dict(width=1.5, color=hc))))
    # arrow in middle panel
    k2 = r * 3 + 2
    xa = "x" + sfx(k2)
    bottom = ROW_Y[r][1]
    if ARROW_UP[r]:
        annotations.append(dict(x=ARROW_X[r], y=py(bottom + 3), xref=xa, yref="paper", text="", showarrow=True,
                                arrowhead=2, arrowsize=1.1, arrowwidth=1.6, arrowcolor="#222", ax=0, ay=7))
        shapes.append(dict(type="line", xref=xa, yref="paper", x0=ARROW_X[r], x1=ARROW_X[r],
                           y0=py(bottom + 10), y1=py(bottom + 21), line=dict(color="#222", width=1.6, dash="3px,2px")))
    else:
        annotations.append(dict(x=ARROW_X[r], y=py(bottom - 3), xref=xa, yref="paper", text="", showarrow=True,
                                arrowhead=2, arrowsize=1.1, arrowwidth=1.6, arrowcolor="#222", ax=0, ay=-7))
        shapes.append(dict(type="line", xref=xa, yref="paper", x0=ARROW_X[r], x1=ARROW_X[r],
                           y0=py(bottom - 10), y1=py(bottom - 21), line=dict(color="#222", width=1.6, dash="3px,2px")))
    # y title
    annotations.append(dict(text="% Total reads", xref="paper", yref="paper", x=px(10),
                            y=py((ROW_Y[r][0] + ROW_Y[r][1]) / 2 - 2), textangle=-90, showarrow=False,
                            xanchor="center", yanchor="middle",
                            font=dict(family="Liberation Sans, Arial", size=13, color="#333", weight="bold")))

# x titles
for c in range(3):
    annotations.append(dict(text="% V-gene mutation", xref="paper", yref="paper",
                            x=px((COL_X[c][0] + COL_X[c][1]) / 2 + 3), y=py(848), showarrow=False,
                            xanchor="center", yanchor="middle",
                            font=dict(family="Liberation Sans, Arial", size=12.5, color="#333", weight="bold")))

# panel letter
annotations.append(dict(text="A", xref="paper", yref="paper", x=px(3), y=py(8), xanchor="left", yanchor="middle",
                        showarrow=False, font=dict(family="Liberation Sans, Arial", size=13, color="#111", weight="bold")))

# left legend
for lab, col, yy in zip(LEGEND_LABELS, LEGEND_COLORS, LEGEND_Y):
    shapes.append(dict(type="line", xref="paper", yref="paper", x0=px(120), x1=px(135), y0=py(yy), y1=py(yy),
                       line=dict(color=col, width=1.8)))
    annotations.append(dict(text=lab, xref="paper", yref="paper", x=px(141), y=py(yy), xanchor="left",
                            yanchor="middle", showarrow=False,
                            font=dict(family="Liberation Sans, Arial", size=10, color="#333")))
# right legend
for lab, col, yy in zip(RIGHT_LEGEND, [MED_GREY, MED_RED], [25, 37]):
    shapes.append(dict(type="line", xref="paper", yref="paper", x0=px(543), x1=px(563), y0=py(yy), y1=py(yy),
                       line=dict(color=col, width=1.8)))
    annotations.append(dict(text=lab, xref="paper", yref="paper", x=px(569), y=py(yy), xanchor="left",
                            yanchor="middle", showarrow=False,
                            font=dict(family="Liberation Sans, Arial", size=10, color="#333")))

# p-value label
annotations.append(dict(text="p=0.1", xref="x6", yref="y6", x=25.2, y=-0.55, xanchor="left", yanchor="middle",
                        showarrow=False, font=dict(family="Liberation Sans, Arial", size=12, color="#666")))

layout["annotations"] = annotations
layout["shapes"] = shapes
fig.update_layout(**layout)
fig.write_html("out.html")
